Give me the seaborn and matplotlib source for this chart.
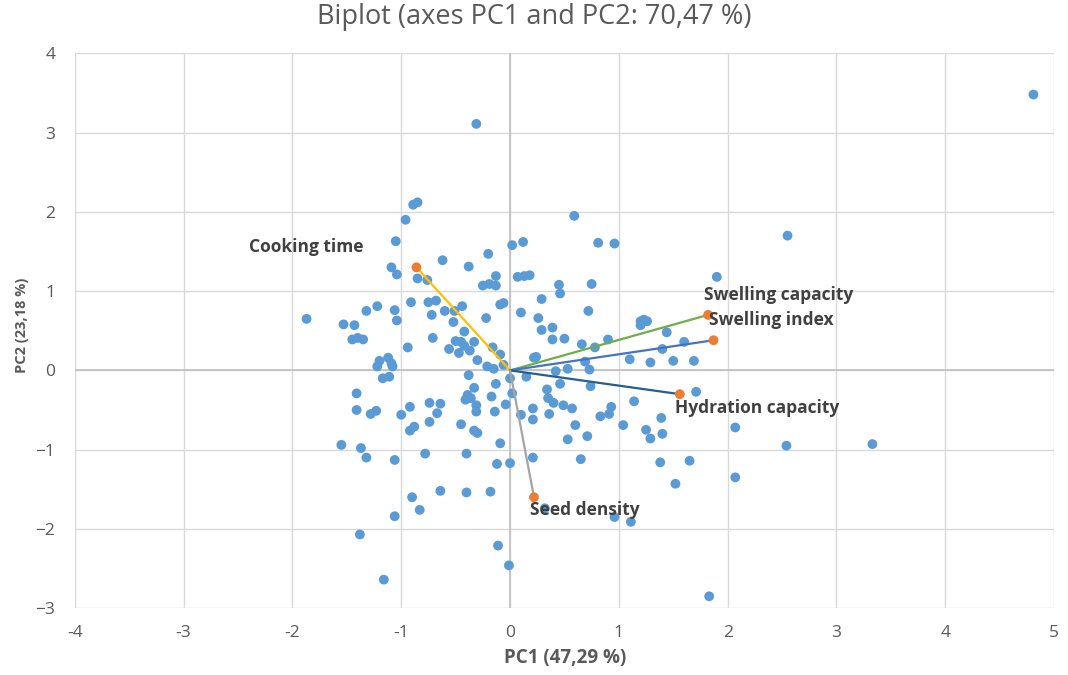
import pandas as pd
import seaborn as sns
import matplotlib.pyplot as plt

pc1 = [
    -0.31, -0.89, -0.85, -0.96, -1.05, 0.02, 0.12, -1.09, -1.04, -0.62,
    -0.38, -0.20, -0.13, -0.85, -0.76, 0.07, 0.13, 0.18,
    -0.25, -0.19, -0.13, -1.87, -1.53, -1.43, -1.32, -1.22, -1.06, -1.04,
    -0.91, -0.75, -0.68, -0.72, -0.60, -0.51, -0.44, -0.52, -0.22, -0.09,
    -0.06, 0.10, -1.45, -1.40, -1.35, -0.94, -0.71, -0.42, -0.50, -0.45,
    -0.42, -0.37, -0.33, -0.56, -0.47, -0.16, -0.09, -0.30, -0.21, -0.15,
    -0.06, -1.20, -1.22, -1.12, -1.09, -1.08, -1.17, -1.11, -0.38, -0.13,
    0.00, -0.33, -0.39, -0.36, -0.41, -0.17, 0.02, -1.41, -1.41, -1.28,
    -1.23, -1.00, -0.92, -0.74, -0.64, -0.67, -0.31, -0.31, -0.14, -0.04,
    0.10, -0.74, -0.45, -0.92, -0.88, -0.33, -0.30, -1.55, -1.37, -0.09,
    -1.32, -1.06, -0.78, -0.40, -0.12, 0.00, -0.90, -0.64, -0.40, -0.18,
    -0.83, -1.06, -1.38, -0.11, -0.01, -1.16,
    0.59, 0.81, 0.96, 1.90,
    0.45, 0.75, 0.46, 0.29, 0.72, 0.26, 0.29, 0.39, 0.39, 0.50,
    0.66, 0.78, 0.90, 1.20, 1.23, 1.26, 1.20, 1.44, 1.60, 1.40,
    0.22, 0.24, 0.69, 1.10, 1.29, 1.50, 1.69, 0.42, 0.53, 0.73,
    0.15, 0.46, 0.74, 0.34, 0.35, 0.40, 0.49, 0.57, 0.93, 0.83,
    0.91, 1.14, 1.71, 0.21, 0.21, 0.36, 0.60, 1.04, 1.25, 1.29,
    1.39, 1.40, 2.07, 0.53, 0.71,
    0.21, 0.65, 1.38, 1.65, 1.52, 2.07, 0.32, 0.96, 1.11, 1.83,
    4.81, 2.55, 2.54, 3.33,
]
pc2 = [
    3.11, 2.09, 2.12, 1.90, 1.63, 1.58, 1.62, 1.30, 1.21, 1.39,
    1.31, 1.47, 1.19, 1.16, 1.14, 1.18, 1.19, 1.20,
    1.07, 1.09, 1.07, 0.65, 0.58, 0.57, 0.75, 0.81, 0.76, 0.63,
    0.86, 0.86, 0.88, 0.70, 0.75, 0.75, 0.81, 0.61, 0.66, 0.83,
    0.85, 0.73, 0.39, 0.41, 0.39, 0.29, 0.41, 0.49, 0.37, 0.36,
    0.31, 0.25, 0.36, 0.27, 0.22, 0.29, 0.20, 0.13, 0.05, 0.02,
    0.07, 0.12, 0.05, 0.16, 0.09, 0.05, -0.10, -0.08, -0.06, -0.17,
    -0.10, -0.22, -0.31, -0.35, -0.37, -0.33, -0.29, -0.29, -0.50, -0.55,
    -0.51, -0.56, -0.46, -0.41, -0.42, -0.54, -0.44, -0.52, -0.52, -0.43,
    -0.56, -0.65, -0.68, -0.76, -0.71, -0.76, -0.79, -0.94, -0.98, -0.92,
    -1.10, -1.13, -1.05, -1.05, -1.18, -1.17, -1.60, -1.52, -1.54, -1.53,
    -1.76, -1.84, -2.07, -2.21, -2.46, -2.64,
    1.95, 1.61, 1.60, 1.18,
    1.08, 1.09, 0.97, 0.90, 0.75, 0.66, 0.51, 0.54, 0.39, 0.40,
    0.33, 0.29, 0.39, 0.62, 0.64, 0.62, 0.57, 0.48, 0.36, 0.27,
    0.16, 0.17, 0.11, 0.14, 0.10, 0.12, 0.12, -0.01, 0.02, 0.01,
    -0.08, -0.17, -0.20, -0.24, -0.35, -0.41, -0.44, -0.48, -0.46, -0.58,
    -0.55, -0.39, -0.27, -0.48, -0.62, -0.55, -0.69, -0.69, -0.75, -0.86,
    -0.60, -0.80, -0.72, -0.87, -0.83,
    -1.10, -1.12, -1.16, -1.14, -1.43, -1.35, -1.74, -1.85, -1.91, -2.85,
    3.48, 1.70, -0.95, -0.93,
]

# --- variable loadings ---
var_names = ['Cooking time', 'Swelling capacity', 'Swelling index',
             'Hydration capacity', 'Seed density']
var_pc1 = [-0.86, 1.82, 1.87, 1.56, 0.22]
var_pc2 = [1.30, 0.70, 0.38, -0.30, -1.60]
var_colors = ['#FFC000', '#70AD47', '#4472C4', '#255E91', '#A5A5A5']
# where the label text starts (left edge, centre line)
label_x = [-2.40, 1.78, 1.83, 1.52, 0.18]
label_y = [1.56, 0.95, 0.63, -0.47, -1.76]

x_ticks = [-4, -3, -2, -1, 0, 1, 2, 3, 4, 5]
y_ticks = [-3, -2, -1, 0, 1, 2, 3, 4]

sns.set_theme(style="whitegrid")
plt.rcParams['font.family'] = ['Open Sans', 'DejaVu Sans']

scores = pd.DataFrame({'PC1': pc1, 'PC2': pc2})

fig = plt.figure(figsize=(10.68, 6.75), dpi=100)
ax = fig.add_axes([0.070, 0.099, 0.917, 0.822])

ax.axhline(0, color='#BFBFBF', lw=1.2, zorder=1)
ax.axvline(0, color='#BFBFBF', lw=1.2, zorder=1)

sns.scatterplot(data=scores, x='PC1', y='PC2', color='#5B9BD5', s=50,
                edgecolor='none', ax=ax, zorder=3)

for i, name in enumerate(var_names):
    ax.plot([0, var_pc1[i]], [0, var_pc2[i]], color=var_colors[i], lw=1.6, zorder=4)
    ax.scatter(var_pc1[i], var_pc2[i], color='#ED7D31', s=50, edgecolor='none', zorder=5)
    ax.text(label_x[i], label_y[i], name, ha='left', va='center', fontsize=12.5,
            fontweight='bold', color='#404040', zorder=6)

ax.set_xlim(-4, 5)
ax.set_ylim(-3, 4)
ax.set_xticks(x_ticks)
ax.set_xticklabels([str(t) for t in x_ticks])  # plain hyphen like the original
ax.set_yticks(y_ticks)
ax.grid(True, color='#D9D9D9', lw=1)
for s in ax.spines.values():
    s.set_visible(False)
ax.tick_params(axis='both', colors='#595959', labelsize=12.5, length=0)
ax.tick_params(axis='x', pad=12)
ax.tick_params(axis='y', pad=14)
ax.set_xlabel('')
ax.set_ylabel('')

fig.text(565 / 1068, 1 - 658 / 675, 'PC1 (47,29 %)', ha='center', va='center',
         fontsize=13.5, fontweight='bold', color='#595959')
fig.text(22 / 1068, 1 - 325 / 675, 'PC2 (23,18 %)', ha='center', va='center', rotation=90,
         fontsize=10.5, fontweight='bold', color='#595959')
fig.text(0.5, 1 - 17 / 675, 'Biplot (axes PC1 and PC2: 70,47 %)', ha='center', va='center',
         fontsize=19.5, color='#595959')

fig.savefig('out.png', dpi=100)
